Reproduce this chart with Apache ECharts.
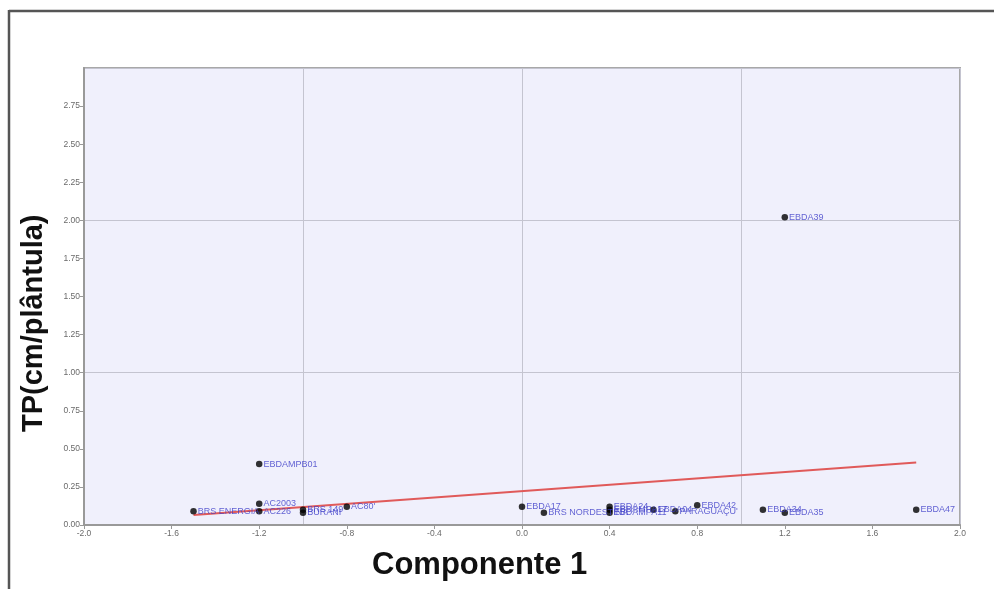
<!DOCTYPE html>
<html>
<head>
<meta charset="utf-8">
<script src="https://cdn.jsdelivr.net/npm/echarts@6/dist/echarts.min.js"></script>
<style>
  html, body { margin: 0; padding: 0; background: #ffffff; }
  #chart { width: 994px; height: 589px; }
</style>
</head>
<body>
<div id="chart"></div>
<script>
// Genotype names, first principal component score and TP value
const names = ['BRS ENERGIA', 'EBDAMPB01', 'AC2003', 'AC226', 'BRS 149', 'BURANI', "AC80'",
  'EBDA17', 'BRS NORDESTINA', 'EBDA24', 'EBDAMPA17', 'EBDAMPA11', 'EBDA04', "PARAGUAÇU'",
  'EBDA42', 'EBDA34', 'EBDA35', 'EBDA39', 'EBDA47'];
const comp1 = [-1.5, -1.2, -1.2, -1.2, -1.0, -1.0, -0.8,
  0.0, 0.1, 0.4, 0.4, 0.4, 0.6, 0.7,
  0.8, 1.1, 1.2, 1.2, 1.8];
const tp = [0.09, 0.40, 0.14, 0.09, 0.10, 0.08, 0.12,
  0.12, 0.08, 0.12, 0.10, 0.08, 0.10, 0.09,
  0.13, 0.10, 0.08, 2.02, 0.10];

// Fitted trend line end points
const trendX = [-1.5, 1.8];
const trendY = [0.065, 0.41];

const points = names.map((n, i) => ({ name: n, value: [comp1[i], tp[i]] }));
const trend = trendX.map((x, i) => [x, trendY[i]]);

const chart = echarts.init(document.getElementById('chart'));
const tickFont = { color: '#6a6a6a', fontSize: 8.5, fontFamily: 'Liberation Sans, Arial, sans-serif' };

chart.setOption({
  animation: false,
  backgroundColor: '#ffffff',
  graphic: [
    { type: 'line', shape: { x1: 9, y1: 10, x2: 9, y2: 589 }, style: { stroke: '#555', lineWidth: 2.5 } },
    { type: 'line', shape: { x1: 9, y1: 11, x2: 994, y2: 11 }, style: { stroke: '#555', lineWidth: 2.5 } },
    { type: 'text', left: 372, top: 550,
      style: { text: 'Componente 1', font: 'bold 31px "Liberation Sans", Arial, sans-serif', fill: '#111' } },
    { type: 'text', x: 19, y: 432, rotation: Math.PI / 2,
      style: { text: 'TP(cm/plântula)', font: 'bold 29px "Liberation Sans", Arial, sans-serif', fill: '#111' } }
  ],
  grid: {
    left: 84, top: 68, right: 34, bottom: 64,
    show: true, backgroundColor: '#f0f0fc', borderColor: '#a8a8a8', borderWidth: 2
  },
  xAxis: [
    {
      type: 'value', min: -2, max: 2, interval: 0.4,
      axisLine: { show: true, onZero: false, lineStyle: { color: '#999', width: 2 } },
      axisTick: { show: true, length: 4, lineStyle: { color: '#999' } },
      axisLabel: Object.assign({ margin: 4, formatter: v => v.toFixed(1) }, tickFont),
      splitLine: { show: false }
    },
    {
      type: 'value', min: -2, max: 2, interval: 1, position: 'bottom',
      axisLine: { show: false }, axisTick: { show: false }, axisLabel: { show: false },
      splitLine: { show: true, lineStyle: { color: '#c4c4d0', width: 1 } }
    }
  ],
  yAxis: [
    {
      type: 'value', min: 0, max: 3, interval: 0.25,
      axisLine: { show: true, onZero: false, lineStyle: { color: '#999', width: 2 } },
      axisTick: { show: true, length: 4, lineStyle: { color: '#999' } },
      axisLabel: Object.assign({ margin: 4, showMaxLabel: false, formatter: v => v.toFixed(2) }, tickFont),
      splitLine: { show: false }
    },
    {
      type: 'value', min: 0, max: 3, interval: 1, position: 'left',
      axisLine: { show: false }, axisTick: { show: false }, axisLabel: { show: false },
      splitLine: { show: true, lineStyle: { color: '#c4c4d0', width: 1 } }
    }
  ],
  series: [
    {
      type: 'line', data: trend, xAxisIndex: 0, yAxisIndex: 0,
      symbol: 'none', lineStyle: { color: '#e05a5a', width: 2 }, z: 3
    },
    {
      type: 'scatter', data: points, xAxisIndex: 0, yAxisIndex: 0,
      symbol: 'circle', symbolSize: 6.5,
      itemStyle: { color: '#000' }, z: 4,
      label: {
        show: true, position: 'right', distance: 1, offset: [0, 5],
        formatter: p => p.name,
        color: '#3c3cc8', fontSize: 9, fontFamily: 'Liberation Sans, Arial, sans-serif'
      },
      labelLayout: { hideOverlap: false }
    }
  ]
});
</script>
</body>
</html>
